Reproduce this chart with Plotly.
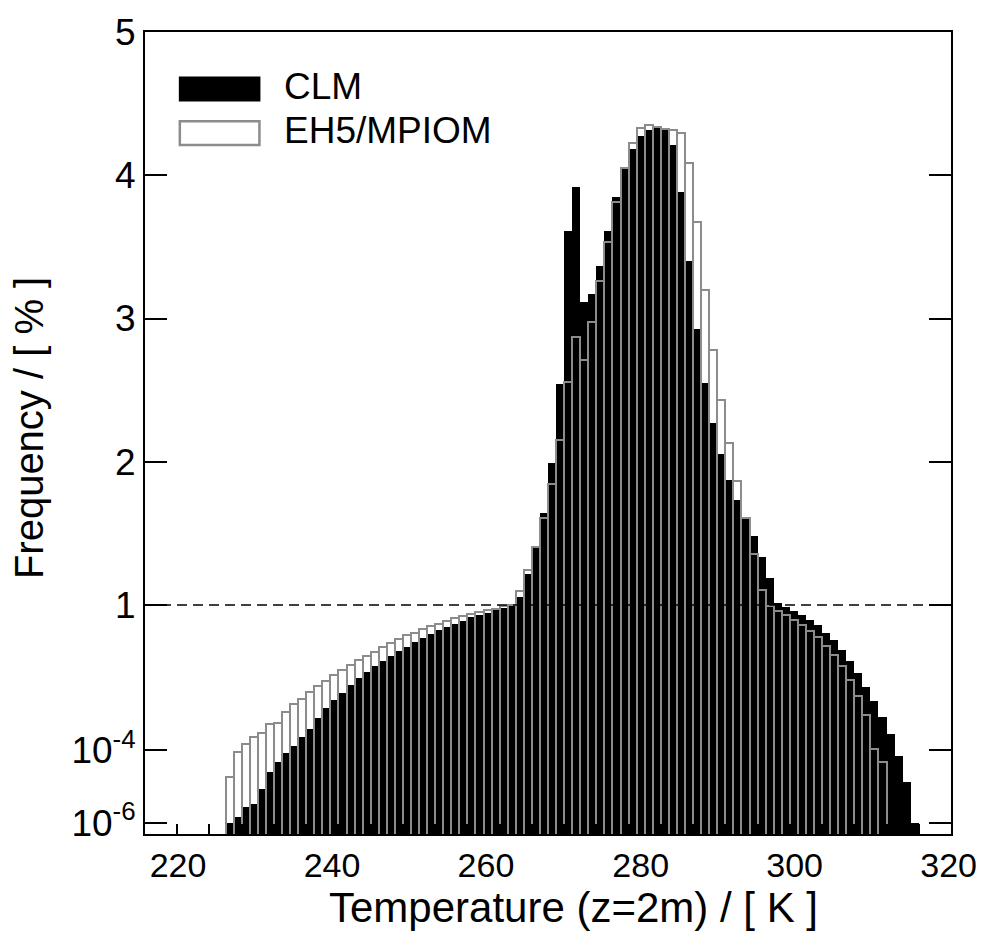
import math
import plotly.graph_objects as go

# ---------------- data ----------------
# left edges of 1 K temperature bins (K)
bin_left = list(range(230, 316))

# CLM frequency (%) per bin
clm = [
    1.0e-6, 1.5e-6, 2.7e-6, 3.3e-6, 8.4e-6, 2.6e-5, 4.7e-5, 8.2e-5, 1.34e-4, 2.3e-4,
    3.9e-4, 7.9e-4, 1.43e-3, 2.45e-3, 3.9e-3, 6.3e-3, 9.8e-3, 0.0142, 0.0207, 0.0291,
    0.0398, 0.0532, 0.0715, 0.096, 0.123, 0.162, 0.204, 0.251, 0.309, 0.373,
    0.462, 0.543, 0.617, 0.717, 0.844, 1.002, 1.057, 1.217, 1.406, 1.644,
    1.990, 2.543, 3.609, 3.918, 3.116, 3.173, 3.367, 3.611, 3.851, 4.052,
    4.186, 4.273, 4.315, 4.336, 4.324, 4.209, 3.886, 3.403, 2.924, 2.552,
    2.271, 2.054, 1.874, 1.736, 1.607, 1.482, 1.332, 1.189, 1.016, 0.899,
    0.699, 0.543, 0.397, 0.279, 0.175, 0.106, 0.058, 0.0291, 0.0134, 5.5e-3,
    2.25e-3, 8.4e-4, 2.8e-4, 6.8e-5, 1.33e-5, 9.8e-7,
]

# EH5/MPIOM frequency (%) per bin
eh5 = [
    1.79e-5, 9.2e-5, 1.49e-4, 2.35e-4, 3.0e-4, 5.4e-4, 5.8e-4, 1.15e-3, 1.9e-3, 2.6e-3,
    4.0e-3, 5.8e-3, 8.1e-3, 0.0116, 0.0161, 0.0221, 0.0297, 0.0398, 0.0522, 0.0684,
    0.0902, 0.113, 0.145, 0.175, 0.212, 0.267, 0.309, 0.373, 0.442, 0.511,
    0.579, 0.644, 0.717, 0.792, 0.922, 1.002, 1.099, 1.242, 1.406, 1.609,
    1.844, 2.151, 2.555, 2.873, 2.707, 2.974, 3.261, 3.531, 3.812, 4.052,
    4.227, 4.329, 4.354, 4.336, 4.324, 4.315, 4.292, 4.084, 3.673, 3.201,
    2.781, 2.428, 2.133, 1.867, 1.607, 1.355, 1.102, 0.922, 0.686, 0.524,
    0.382, 0.285, 0.195, 0.128, 0.076, 0.0424, 0.0203, 8.4e-3, 3.2e-3, 9.4e-4,
    1.08e-4, 4.7e-5, None, None, None, None,
]

series_names = ["CLM", "EH5/MPIOM"]

# x tick labels (as printed in the original) and their positions
x_tick_text = ["220", "240", "260", "280", "300", "320"]
x_tick_pos = [224.1, 243.2, 262.3, 281.5, 300.6, 319.7]

# y ticks
y_tick_raw = [1e-6, 1e-4, 1, 2, 3, 4, 5]
y_tick_text = ["10<sup>-6</sup>", "10<sup>-4</sup>", "1", "2", "3", "4", "5"]

x_title = "Temperature (z=2m) / [ K ]"
y_title = "Frequency / [ % ]"

# ---------------- piecewise axis: linear above 1, log below 1 ----------------
DEC = 36.65 / 144.5  # height of one decade relative to one linear unit


def to_axis(v):
    if v is None:
        return None
    return v if v >= 1 else 1 + DEC * math.log10(v)


Y_MIN = 1 - 231 / 144.5
Y_MAX = 5
BASE = -1.0

x_centers = [b + 0.5 for b in bin_left]

fig = go.Figure()
fig.add_trace(go.Bar(
    x=x_centers,
    y=[to_axis(v) - BASE for v in clm],
    base=BASE,
    width=1,
    name=series_names[0],
    marker=dict(color="black", line=dict(width=0)),
    showlegend=False,
))
fig.add_trace(go.Bar(
    x=x_centers,
    y=[(to_axis(v) - BASE) if v is not None else None for v in eh5],
    base=BASE,
    width=1,
    name=series_names[1],
    marker=dict(color="rgba(0,0,0,0)", line=dict(color="#8c8c8c", width=2)),
    showlegend=False,
))

FONT = "Liberation Sans, Arial, Helvetica, sans-serif"
W, H = 989, 944
ML, MR, MT, MB = 145, 34, 25, 110
PW, PH = W - ML - MR, H - MT - MB


def px2paper(x, y):
    return (x - ML) / PW, (H - MB - y) / PH


shapes = [
    dict(type="line", xref="paper", yref="y", x0=0, x1=1, y0=to_axis(1), y1=to_axis(1),
         line=dict(color="black", width=1.6, dash="10px,6px"), layer="above"),
]
# legend swatches
bx0, by0 = px2paper(179, 70)
bx1, by1 = px2paper(261, 95)
shapes.append(dict(type="rect", xref="paper", yref="paper", x0=bx0, x1=bx1, y0=by1, y1=by0,
                   fillcolor="black", line=dict(width=0), layer="above"))
gx0, gy0 = px2paper(180, 115)
gx1, gy1 = px2paper(260, 139)
shapes.append(dict(type="rect", xref="paper", yref="paper", x0=gx0, x1=gx1, y0=gy1, y1=gy0,
                   fillcolor="white", line=dict(color="#8c8c8c", width=2.5), layer="above"))

annotations = []
for name, ypx in zip(series_names, [80, 124]):
    ax, ay = px2paper(283, ypx)
    annotations.append(dict(text=name, xref="paper", yref="paper", x=ax, y=ay,
                            xanchor="left", yanchor="middle", showarrow=False,
                            font=dict(size=37, color="black", family=FONT)))

# axis titles
tx, ty = px2paper(576, 908)
annotations.append(dict(text=x_title, xref="paper", yref="paper", x=tx, y=ty,
                        xanchor="center", yanchor="middle", showarrow=False,
                        font=dict(size=42, color="black", family=FONT)))
yx, yy = px2paper(28, 425)
annotations.append(dict(text=y_title, xref="paper", yref="paper", x=yx, y=yy,
                        xanchor="center", yanchor="middle", showarrow=False, textangle=-90,
                        font=dict(size=40, color="black", family=FONT)))

tick_style = dict(ticks="inside", tickcolor="black", tickwidth=1.5)

fig.update_layout(
    width=W, height=H,
    margin=dict(l=ML, r=MR, t=MT, b=MB),
    paper_bgcolor="white", plot_bgcolor="white",
    barmode="overlay", bargap=0,
    font=dict(family=FONT, color="black"),
    shapes=shapes,
    annotations=annotations,
    xaxis=dict(
        range=[220, 320], tickmode="array", tickvals=x_tick_pos, ticktext=x_tick_text,
        ticks="inside", ticklen=0, tickfont=dict(size=34),
        minor=dict(tickmode="array", tickvals=list(range(224, 320, 4)), ticklen=10, **tick_style),
        showline=True, linewidth=2, linecolor="black", mirror=True,
        showgrid=False, zeroline=False,
    ),
    xaxis2=dict(
        overlaying="x", anchor="y", side="bottom", range=[220, 320],
        tickmode="array", tickvals=[240, 260, 280, 300], ticklen=22, **tick_style,
        showticklabels=False, showline=False, showgrid=False, zeroline=False,
    ),
    xaxis3=dict(
        overlaying="x", anchor="y", side="top", range=[220, 320],
        tickmode="array", tickvals=[240, 260, 280, 300], ticklen=22, **tick_style,
        minor=dict(tickmode="array", tickvals=list(range(225, 320, 5)), ticklen=10, **tick_style),
        showticklabels=False, showline=False, showgrid=False, zeroline=False,
    ),
    yaxis=dict(
        range=[Y_MIN, Y_MAX], tickmode="array",
        tickvals=[to_axis(v) for v in y_tick_raw], ticktext=y_tick_text,
        ticklen=22, **tick_style, tickfont=dict(size=37),
        showline=True, linewidth=2, linecolor="black", mirror="ticks",
        showgrid=False, zeroline=False,
    ),
)

fig.write_html("out.html")
